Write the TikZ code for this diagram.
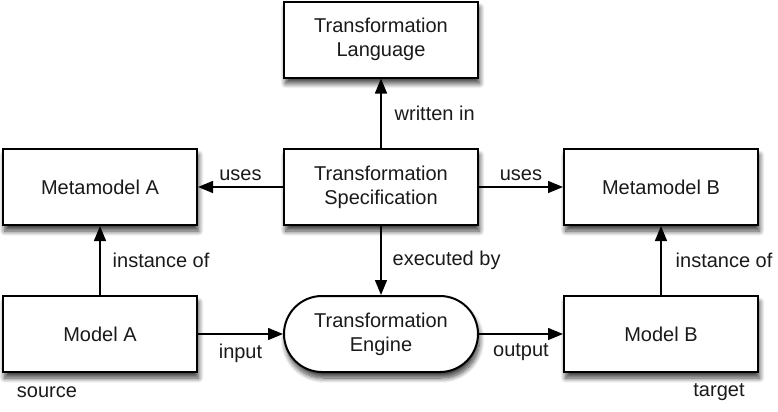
\documentclass[tikz,border=0pt]{standalone}
\usepackage{fontspec}
\setmainfont{Liberation Sans}
\usetikzlibrary{arrows.meta,shadows.blur}
\definecolor{ink}{HTML}{1A1A1A}
\tikzset{box/.style={draw=black,fill=white,line width=1pt,minimum width=97pt,minimum height=38pt,
  inner sep=0pt,align=center,font=\fontsize{10}{12}\selectfont,text=ink,
  blur shadow={shadow xshift=0.8pt,shadow yshift=-3pt,shadow blur radius=2.5pt,shadow blur steps=10,shadow opacity=75}},
engine/.style={box,rounded corners=19pt},
rel/.style={-{Triangle[length=7.5pt,width=6pt]},line width=0.7pt},
lab/.style={font=\fontsize{10}{12}\selectfont,text=ink,inner sep=2pt}}
\begin{document}
\begin{tikzpicture}[x=0.5pt,y=-0.5pt]
\useasboundingbox (0,0) rectangle (778,412);
\node[box] (lang) at (381,39.5) {Transformation\\Language};
\node[box] (spec) at (381,187) {Transformation\\Specification};
\node[box] (metaA) at (100,187) {Metamodel A};
\node[box] (metaB) at (661,187) {Metamodel B};
\node[box] (modelA) at (100,334) {Model A};
\node[box] (modelB) at (661,334) {Model B};
\node[engine] (engine) at (381,334) {Transformation\\Engine};
% relations
\draw[rel] (spec) -- node[lab,right=4.5pt] {written in} (lang);
\draw[rel] (spec) -- node[lab,above=1pt] {uses} (metaA);
\draw[rel] (spec) -- node[lab,above=1pt] {uses} (metaB);
\draw[rel] (spec) -- node[lab,right=3.5pt] {executed by} (engine);
\draw[rel] (modelA) -- node[lab,right=4pt] {instance of} (metaA);
\draw[rel] (modelB) -- node[lab,right=5pt] {instance of} (metaB);
\draw[rel] (modelA) -- node[lab,below=2.5pt] {input} (engine);
\draw[rel] (engine) -- node[lab,below=2.5pt] {output} (modelB);
\node[lab] (source) at (47,392) {source};
\node[lab] (target) at (719,392) {target};
\end{tikzpicture}
\end{document}
